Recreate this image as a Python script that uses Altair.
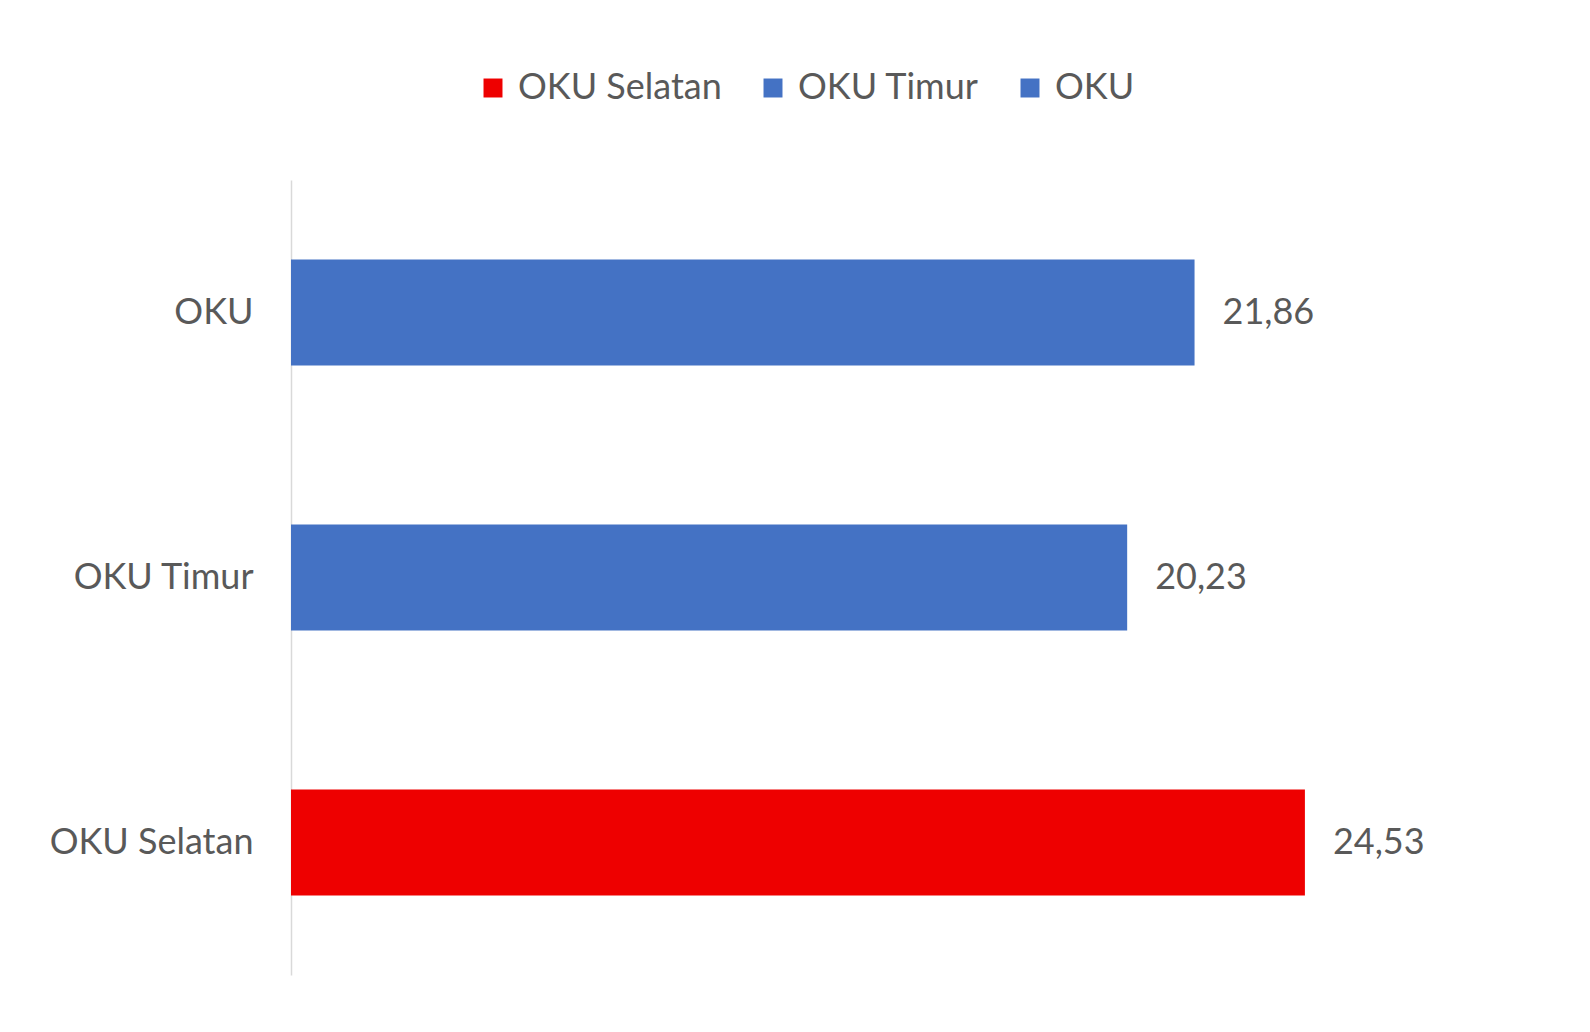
import altair as alt
import pandas as pd

categories = ["OKU", "OKU Timur", "OKU Selatan"]
values = [21.86, 20.23, 24.53]
legend_order = ["OKU Selatan", "OKU Timur", "OKU"]
legend_colors = ["#EE0000", "#4472C4", "#4472C4"]

df = pd.DataFrame({
    "wilayah": categories,
    "nilai": values,
    "label": [f"{v:.2f}".replace(".", ",") for v in values],
})

FONT = "Lato"
GRAY = "#595959"
FS = 36

y_enc = alt.Y("wilayah:N", sort=categories,
              scale=alt.Scale(paddingInner=0.6, paddingOuter=0.3),
              axis=alt.Axis(title=None, ticks=False, labelPadding=38, labelLimit=0,
                            labelFontSize=FS, labelColor=GRAY, labelFont=FONT,
                            domainColor="#d9d9d9", domainWidth=1.5, grid=False))
x_enc = alt.X("nilai:Q", scale=alt.Scale(domain=[0, 30]), axis=None)

bars = alt.Chart(df).mark_bar().encode(
    y=y_enc,
    x=x_enc,
    color=alt.Color("wilayah:N",
                    scale=alt.Scale(domain=legend_order, range=legend_colors),
                    legend=alt.Legend(title=None, orient="none", direction="horizontal",
                                      legendX=184, legendY=-110,
                                      symbolType="square", symbolSize=360,
                                      symbolStrokeWidth=0, labelLimit=0,
                                      labelFontSize=FS, labelColor=GRAY, labelFont=FONT,
                                      labelOffset=7, columnPadding=33)),
)

texts = alt.Chart(df).mark_text(align="left", baseline="middle", dx=28,
                                fontSize=FS, color=GRAY, font=FONT).encode(
    y=alt.Y("wilayah:N", sort=categories),
    x=alt.X("nilai:Q"),
    text="label:N",
)

chart = (bars + texts).properties(
    width=1240, height=795,
    autosize=alt.AutoSizeParams(type="none"),
    padding={"left": 283, "top": 172, "right": 10, "bottom": 10},
).configure_view(stroke=None)

chart.save("out.html", embed_options={"renderer": "svg", "actions": False})
